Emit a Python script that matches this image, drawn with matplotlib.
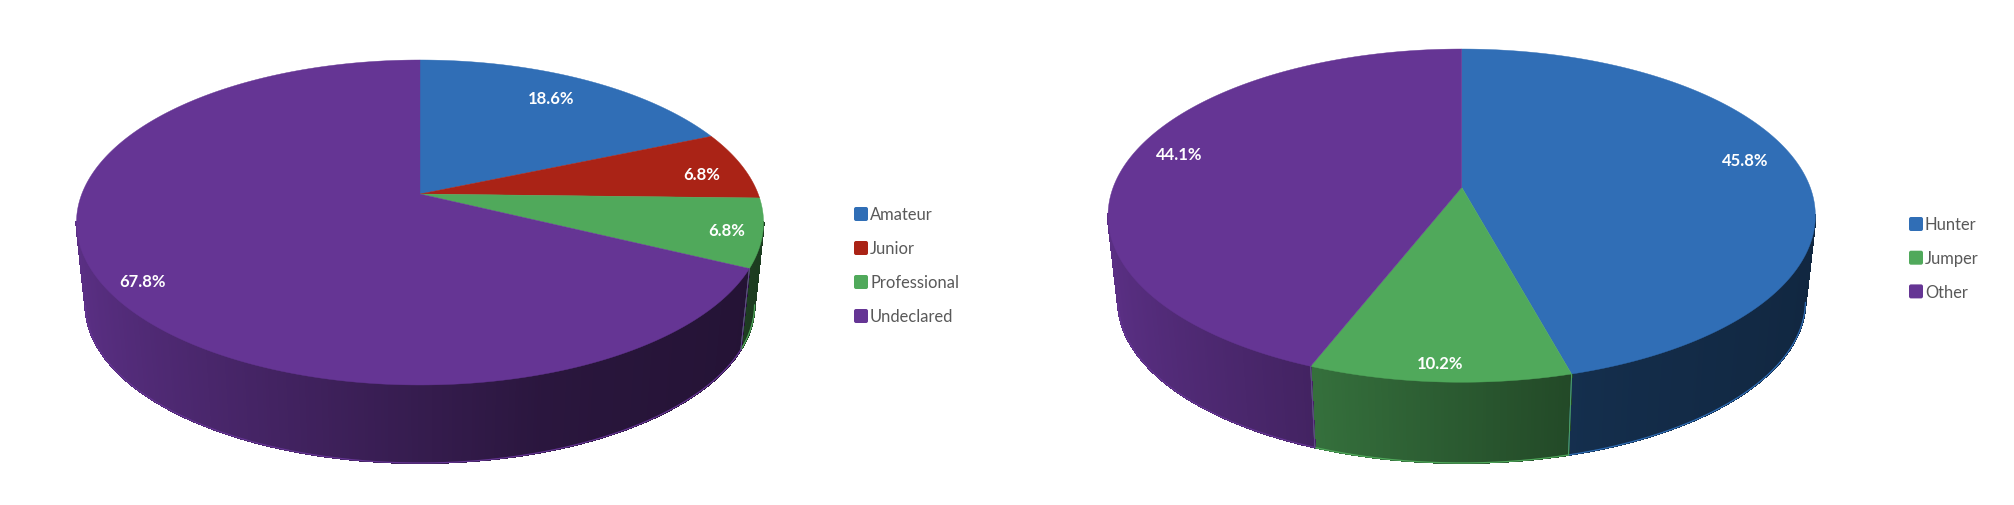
import numpy as np
import matplotlib
matplotlib.use('Agg')
import matplotlib.pyplot as plt
from matplotlib.collections import PolyCollection
from matplotlib.patches import FancyBboxPatch

plt.rcParams['font.family'] = ['Lato', 'DejaVu Sans']

# left pie
level_names = ['Amateur', 'Junior', 'Professional', 'Undeclared']
level_values = [18.6, 6.8, 6.8, 67.8]
# right pie
type_names = ['Hunter', 'Jumper', 'Other']
type_values = [45.8, 10.2, 44.1]

BLUE = '#306EB6'
RED = '#AA2316'
GREEN = '#50A95B'
PURPLE = '#653594'
level_colors = [BLUE, RED, GREEN, PURPLE]
type_colors = [BLUE, GREEN, PURPLE]

# darkening of the side wall from left to right
shade_t = [0.0, 0.28, 0.65, 0.72, 1.0]
shade_m = [0.90, 0.69, 0.42, 0.40, 0.35]


def project(theta, cx, cy, a, b, k, scale=1.0, r=1.0):
    # theta clockwise from 12 o'clock, near edge of the disc looks bigger
    x = r * np.sin(theta)
    y = r * np.cos(theta)
    w = 1 + k * y
    return cx + scale * a * x / w, cy - scale * b * y / w


def draw_pie(ax, values, colors, cx, cy, a, b, k, bottom_cy, bottom_scale):
    vals = np.array(values, dtype=float)
    edges = np.concatenate([[0], np.cumsum(vals)]) / vals.sum() * 2 * np.pi

    # side wall first, only the part in front of the widest point
    quads = []
    quad_colors = []
    for i in range(len(vals)):
        n = max(int((edges[i + 1] - edges[i]) * 120), 2)
        th = np.linspace(edges[i], edges[i + 1], n + 1)
        tx, ty = project(th, cx, cy, a, b, k)
        bx, by = project(th, cx, bottom_cy, a, b, k, bottom_scale)
        rgb = np.array(matplotlib.colors.to_rgb(colors[i]))
        for j in range(n):
            if np.cos(th[j]) > -k and np.cos(th[j + 1]) > -k:
                continue
            quads.append([(tx[j], ty[j]), (tx[j + 1], ty[j + 1]),
                          (bx[j + 1], by[j + 1]), (bx[j], by[j])])
            t = (np.sin(th[j]) + 1) / 2
            quad_colors.append(rgb * np.interp(t, shade_t, shade_m))
    ax.add_collection(PolyCollection(quads, facecolors=quad_colors, edgecolors=quad_colors,
                                     linewidths=0.8, antialiaseds=False))

    # thin bright outline on the wall
    for i in range(len(vals)):
        th = np.linspace(edges[i], edges[i + 1], 300)
        vis = np.cos(th) < -k
        bx, by = project(th, cx, bottom_cy, a, b, k, bottom_scale)
        if vis.any():
            ax.plot(bx[vis], by[vis], color=colors[i], lw=0.9, solid_capstyle='round')
        for e in [edges[i], edges[i + 1]]:
            if np.cos(e) < -k:
                x0, y0 = project(e, cx, cy, a, b, k)
                x1, y1 = project(e, cx, bottom_cy, a, b, k, bottom_scale)
                ax.plot([x0, x1], [y0, y1], color=colors[i], lw=0.6)

    # top face
    for i in range(len(vals)):
        th = np.linspace(edges[i], edges[i + 1], 300)
        x, y = project(th, cx, cy, a, b, k)
        ax.fill(np.r_[cx, x], np.r_[cy, y], facecolor=colors[i],
                edgecolor=colors[i], lw=0.3, zorder=3)


def draw_legend(ax, names, colors, x, y0, step):
    for i, name in enumerate(names):
        yc = y0 + i * step
        ax.add_patch(FancyBboxPatch((x + 1.5, yc - 5.5), 11, 11,
                                    boxstyle='round,pad=1.5,rounding_size=2',
                                    facecolor=colors[i], edgecolor='none', zorder=3))
        ax.text(x + 16, yc - 1, name, color='#595959', fontsize=11.9,
                ha='left', va='center_baseline', zorder=4)


fig = plt.figure(figsize=(20.14, 5.06), dpi=100)
ax = fig.add_axes([0, 0, 1, 1])
ax.set_xlim(0, 2014)
ax.set_ylim(506, 0)
ax.axis('off')

draw_pie(ax, level_values, level_colors, 420, 195, 338.2, 157.5, 0.1753, 278, 0.974)
draw_pie(ax, type_values, type_colors, 1461.7, 188.3, 348.5, 161.8, 0.170, 274.5, 0.972)

# data labels, placed by hand like the original
level_label_xy = [(551, 99.3), (702, 174.5), (727, 231), (143, 282.3)]
type_label_xy = [(1745.6, 161), (1440.5, 364), (1179, 155)]
for v, (x, y) in zip(level_values + type_values, level_label_xy + type_label_xy):
    ax.text(x, y, '%.1f%%' % v, color='white', fontsize=12, fontweight='bold',
            ha='center', va='center', zorder=5)

draw_legend(ax, level_names, level_colors, 854, 215, 34)
draw_legend(ax, type_names, type_colors, 1909, 225, 33.7)

fig.savefig('out.png', dpi=100, facecolor='white')
